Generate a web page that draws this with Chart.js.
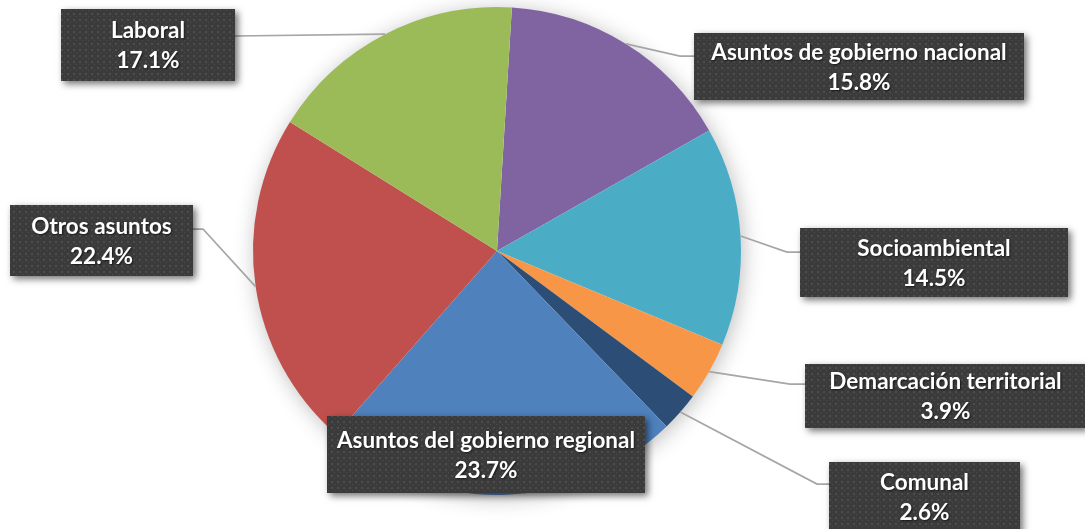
<!DOCTYPE html>
<html>
<head>
<meta charset="utf-8">
<script src="https://cdn.jsdelivr.net/npm/chart.js@4/dist/chart.umd.min.js"></script>
<style>
  html, body { margin: 0; padding: 0; background: #ffffff; }
  #wrap { width: 1085px; height: 529px; position: relative; }
</style>
</head>
<body>
<div id="wrap"><canvas id="c" width="1085" height="529"></canvas></div>
<script>
// ---- data ----
const categories = [
  "Asuntos de gobierno nacional",
  "Socioambiental",
  "Demarcación territorial",
  "Comunal",
  "Asuntos del gobierno regional",
  "Otros asuntos",
  "Laboral"
];
const shares = [15.8, 14.5, 3.9, 2.6, 23.7, 22.4, 17.1];
const sliceColors = ["#8064A2", "#4BACC6", "#F79646", "#2C4D75", "#4F81BD", "#C0504D", "#9BBB59"];

// ---- label placement (layout only) ----
const labelBoxes = [
  { box: [694, 33, 330, 67],  elbow: [680, 56], hook: [694, 56] },
  { box: [800, 228, 268, 69], elbow: [787, 252], hook: [800, 252] },
  { box: [805, 364, 281, 64], elbow: [790, 384], hook: [805, 384] },
  { box: [829, 462, 191, 70], elbow: [817, 484], hook: [829, 484] },
  { box: [327, 416, 318, 77], elbow: null, hook: null },
  { box: [10, 205, 183, 71],  elbow: [203, 229], hook: [193, 229] },
  { box: [61, 9, 174, 72],    elbow: null, hook: [235, 36] }
];

function makePattern(ctx) {
  const p = document.createElement('canvas');
  p.width = 6; p.height = 6;
  const g = p.getContext('2d');
  g.fillStyle = '#3b3b3b';
  g.fillRect(0, 0, 6, 6);
  g.fillStyle = '#4d4d4d';
  g.fillRect(1, 1, 2, 2);
  g.fillRect(4, 4, 1, 1);
  return ctx.createPattern(p, 'repeat');
}

const pieShadow = {
  id: 'pieShadow',
  beforeDatasetsDraw(chart) {
    const meta = chart.getDatasetMeta(0);
    const a = meta.data[0];
    if (!a) return;
    const ctx = chart.ctx;
    ctx.save();
    ctx.shadowColor = 'rgba(0,0,0,0.28)';
    ctx.shadowBlur = 22;
    ctx.shadowOffsetX = 2;
    ctx.shadowOffsetY = 3;
    ctx.fillStyle = '#ffffff';
    ctx.beginPath();
    ctx.arc(a.x, a.y, a.outerRadius - 1, 0, Math.PI * 2);
    ctx.fill();
    ctx.restore();
  }
};

const calloutLabels = {
  id: 'calloutLabels',
  afterDatasetsDraw(chart) {
    const ctx = chart.ctx;
    const meta = chart.getDatasetMeta(0);
    const pattern = makePattern(ctx);
    // leader lines
    ctx.save();
    ctx.strokeStyle = '#a6a6a6';
    ctx.lineWidth = 1.75;
    meta.data.forEach((arc, i) => {
      const L = labelBoxes[i];
      if (!L.hook) return;
      const mid = (arc.startAngle + arc.endAngle) / 2;
      const ax = arc.x + Math.cos(mid) * arc.outerRadius;
      const ay = arc.y + Math.sin(mid) * arc.outerRadius;
      ctx.beginPath();
      ctx.moveTo(ax, ay);
      if (L.elbow) ctx.lineTo(L.elbow[0], L.elbow[1]);
      ctx.lineTo(L.hook[0], L.hook[1]);
      ctx.stroke();
    });
    ctx.restore();
    // boxes
    meta.data.forEach((arc, i) => {
      const [x, y, w, h] = labelBoxes[i].box;
      ctx.save();
      ctx.shadowColor = 'rgba(0,0,0,0.55)';
      ctx.shadowBlur = 7;
      ctx.shadowOffsetX = 3;
      ctx.shadowOffsetY = 3;
      ctx.fillStyle = '#3b3b3b';
      ctx.fillRect(x, y, w, h);
      ctx.restore();
      ctx.save();
      ctx.fillStyle = pattern;
      ctx.fillRect(x, y, w, h);
      ctx.restore();
      // text
      ctx.save();
      ctx.fillStyle = '#ffffff';
      ctx.font = 'bold 22.5px Lato, "Open Sans", sans-serif';
      ctx.textAlign = 'center';
      ctx.textBaseline = 'alphabetic';
      ctx.shadowColor = 'rgba(0,0,0,0.6)';
      ctx.shadowBlur = 2;
      ctx.shadowOffsetX = 1;
      ctx.shadowOffsetY = 1;
      const cx = x + w / 2;
      const cy = y + h / 2;
      ctx.fillText(categories[i], cx, cy - 7);
      ctx.fillText(shares[i].toFixed(1) + '%', cx, cy + 23);
      ctx.restore();
    });
  }
};

new Chart(document.getElementById('c'), {
  type: 'pie',
  data: {
    labels: categories,
    datasets: [{
      data: shares,
      backgroundColor: sliceColors,
      borderWidth: 0
    }]
  },
  options: {
    responsive: false,
    devicePixelRatio: 1,
    animation: false,
    rotation: 3.5,
    layout: { padding: { left: 253, right: 344, top: 7, bottom: 34 } },
    plugins: {
      legend: { display: false },
      tooltip: { enabled: false },
      title: { display: false }
    }
  },
  plugins: [pieShadow, calloutLabels]
});
</script>
</body>
</html>
